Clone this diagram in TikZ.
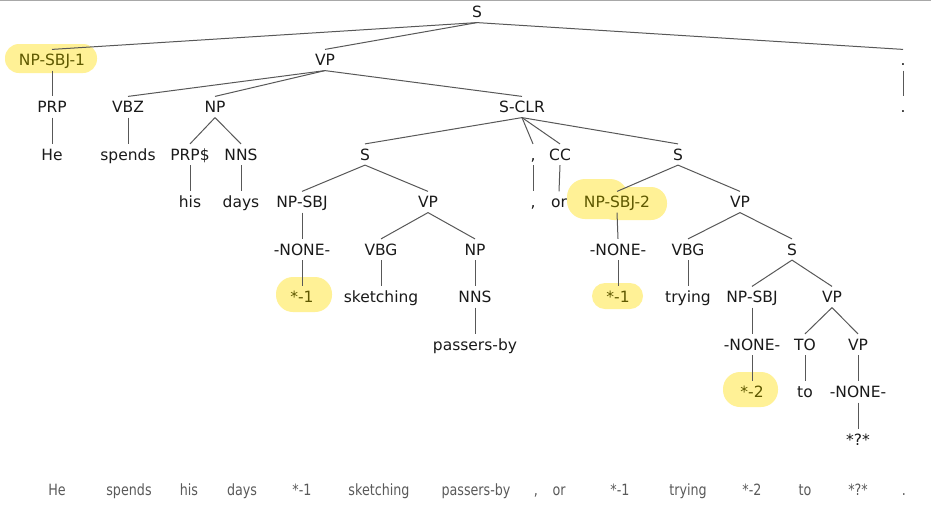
\documentclass[tikz,border=0pt]{standalone}
\usepackage{fontspec}
\setmainfont{DejaVu Sans}
\definecolor{txt}{HTML}{1A1A1A}
\definecolor{linec}{HTML}{585858}
\definecolor{hlc}{HTML}{FFF196}
\definecolor{hltext}{HTML}{5E5800}
\definecolor{bottomc}{HTML}{5A5A5A}
\definecolor{topline}{HTML}{A8A8A8}
\tikzset{
  lab/.style={inner xsep=1pt, inner ysep=4.6pt, text height=11.6pt, text depth=0pt,
    font=\fontsize{15.5pt}{18pt}\selectfont, text=txt},
  hl/.style={lab, text=hltext},
  edge/.style={draw=linec, line width=1pt},
  blob/.style={fill=hlc, draw=none},
  sent/.style={lab, text=bottomc}
}
\newcommand{\cond}[1]{\scalebox{0.82}[1]{#1}}
\begin{document}
\begin{tikzpicture}[x=1pt,y=-1pt]
\useasboundingbox (0,0) rectangle (931,520);
\fill[white] (0,0) rectangle (931,520);
\draw[topline, line width=2pt] (0,0) -- (931,0);
% highlights
\fill[blob, rounded corners=14pt] (5,44) rectangle (97,73);
\fill[blob, rounded corners=18pt] (567,179) rectangle (628,219);
\fill[blob, rounded corners=16pt] (598,187) rectangle (667,220);
\fill[blob, rounded corners=17pt] (276,277) rectangle (332,312);
\fill[blob, rounded corners=13pt] (592,283) rectangle (643,309);
\fill[blob, rounded corners=17pt] (723,372) rectangle (778,407);
% L0
\node[lab] (s0) at (477,12) {S};
% L1
\node[hl] (np1) at (52,60) {NP-SBJ-1};
\node[lab] (vp1) at (325,60) {VP};
\node[lab] (p1) at (903,60) {.};
% L2
\node[lab] (prp) at (52,107) {PRP};
\node[lab] (vbz) at (128,107) {VBZ};
\node[lab] (np2) at (215,107) {NP};
\node[lab] (sclr) at (522,107) {S-CLR};
\node[lab] (p2) at (903,107) {.};
% L3
\node[lab] (he) at (52,154.5) {He};
\node[lab] (spends) at (128,154.5) {spends};
\node[lab] (prps) at (190,154.5) {PRP\$};
\node[lab] (nns1) at (241,154.5) {NNS};
\node[lab] (s3a) at (365,154.5) {S};
\node[lab] (comma3) at (533,154.5) {,};
\node[lab] (cc) at (560,154.5) {CC};
\node[lab] (s3b) at (678,154.5) {S};
% L4
\node[lab] (his) at (190,202) {his};
\node[lab] (days) at (241,202) {days};
\node[lab] (npsbj4a) at (302,202) {NP-SBJ};
\node[lab] (vp4a) at (428,202) {VP};
\node[lab] (comma4) at (533,202) {,};
\node[lab] (or) at (559,202) {or};
\node[hl] (npsbj2) at (617,202) {NP-SBJ-2};
\node[lab] (vp4b) at (740,202) {VP};
% L5
\node[lab] (none5a) at (302,249.5) {-NONE-};
\node[lab] (vbg5a) at (381,249.5) {VBG};
\node[lab] (np5) at (475,249.5) {NP};
\node[lab] (none5b) at (618,249.5) {-NONE-};
\node[lab] (vbg5b) at (688,249.5) {VBG};
\node[lab] (s5) at (792,249.5) {S};
% L6
\node[hl] (star1a) at (302,297) {*-1};
\node[lab] (sketching) at (381,297) {sketching};
\node[lab] (nns6) at (475,297) {NNS};
\node[hl] (star1b) at (618,297) {*-1};
\node[lab] (trying) at (688,297) {trying};
\node[lab] (npsbj6) at (752,297) {NP-SBJ};
\node[lab] (vp6) at (832,297) {VP};
% L7
\node[lab] (passersby) at (475,344.5) {passers-by};
\node[lab] (none7) at (752,344.5) {-NONE-};
\node[lab] (to7) at (805,344.5) {TO};
\node[lab] (vp7) at (858,344.5) {VP};
% L8
\node[hl] (star2) at (752,392) {*-2};
\node[lab] (to8) at (805,392) {to};
\node[lab] (none8) at (858,392) {-NONE-};
% L9
\node[lab] (qq) at (858,439.5) {*?*};
% edges
\draw[edge] (s0.south) -- (np1.north);
\draw[edge] (s0.south) -- (vp1.north);
\draw[edge] (s0.south) -- (p1.north);
\draw[edge] (np1.south) -- (prp.north);
\draw[edge] (vp1.south) -- (vbz.north);
\draw[edge] (vp1.south) -- (np2.north);
\draw[edge] (vp1.south) -- (sclr.north);
\draw[edge] (p1.south) -- (p2.north);
\draw[edge] (prp.south) -- (he.north);
\draw[edge] (vbz.south) -- (spends.north);
\draw[edge] (np2.south) -- (prps.north);
\draw[edge] (np2.south) -- (nns1.north);
\draw[edge] (sclr.south) -- (s3a.north);
\draw[edge] (sclr.south) -- (comma3.north);
\draw[edge] (sclr.south) -- (cc.north);
\draw[edge] (sclr.south) -- (s3b.north);
\draw[edge] (prps.south) -- (his.north);
\draw[edge] (nns1.south) -- (days.north);
\draw[edge] (s3a.south) -- (npsbj4a.north);
\draw[edge] (s3a.south) -- (vp4a.north);
\draw[edge] (comma3.south) -- (comma4.north);
\draw[edge] (cc.south) -- (or.north);
\draw[edge] (s3b.south) -- (npsbj2.north);
\draw[edge] (s3b.south) -- (vp4b.north);
\draw[edge] (npsbj4a.south) -- (none5a.north);
\draw[edge] (vp4a.south) -- (vbg5a.north);
\draw[edge] (vp4a.south) -- (np5.north);
\draw[edge] (npsbj2.south) -- (none5b.north);
\draw[edge] (vp4b.south) -- (vbg5b.north);
\draw[edge] (vp4b.south) -- (s5.north);
\draw[edge] (none5a.south) -- (star1a.north);
\draw[edge] (vbg5a.south) -- (sketching.north);
\draw[edge] (np5.south) -- (nns6.north);
\draw[edge] (none5b.south) -- (star1b.north);
\draw[edge] (vbg5b.south) -- (trying.north);
\draw[edge] (s5.south) -- (npsbj6.north);
\draw[edge] (s5.south) -- (vp6.north);
\draw[edge] (nns6.south) -- (passersby.north);
\draw[edge] (npsbj6.south) -- (none7.north);
\draw[edge] (vp6.south) -- (to7.north);
\draw[edge] (vp6.south) -- (vp7.north);
\draw[edge] (none7.south) -- (star2.north);
\draw[edge] (to7.south) -- (to8.north);
\draw[edge] (vp7.south) -- (none8.north);
\draw[edge] (none8.south) -- (qq.north);
% sentence row
\node[sent] (w1) at (57,490) {\cond{He}};
\node[sent] (w2) at (129,490) {\cond{spends}};
\node[sent] (w3) at (189,490) {\cond{his}};
\node[sent] (w4) at (242,490) {\cond{days}};
\node[sent] (w5) at (302,490) {\cond{*-1}};
\node[sent] (w6) at (379,490) {\cond{sketching}};
\node[sent] (w7) at (476,490) {\cond{passers-by}};
\node[sent] (w8) at (536,490) {\cond{,}};
\node[sent] (w9) at (559,490) {\cond{or}};
\node[sent] (w10) at (620,490) {\cond{*-1}};
\node[sent] (w11) at (688,490) {\cond{trying}};
\node[sent] (w12) at (752,490) {\cond{*-2}};
\node[sent] (w13) at (805,490) {\cond{to}};
\node[sent] (w14) at (858,490) {\cond{*?*}};
\node[sent] (w15) at (904,490) {\cond{.}};
\end{tikzpicture}
\end{document}
